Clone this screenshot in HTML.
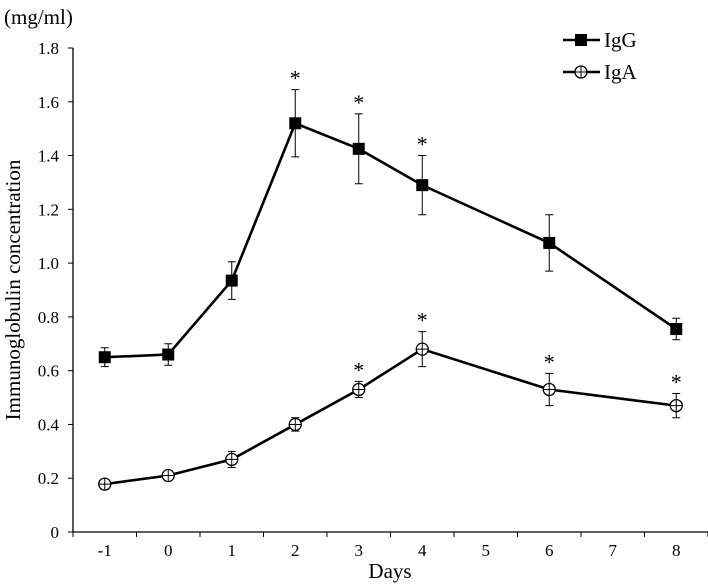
<!DOCTYPE html>
<html><head><meta charset="utf-8"><style>
body{margin:0;background:#fff}
svg{display:block;font-family:"Liberation Serif",serif}
</style></head><body>
<svg id="c" width="708" height="586"></svg>
<script>
const categories=["-1","0","1","2","3","4","5","6","7","8"];
const yTicks=[0,0.2,0.4,0.6,0.8,1.0,1.2,1.4,1.6,1.8];
const yTickLabels=["0","0.2","0.4","0.6","0.8","1.0","1.2","1.4","1.6","1.8"];
const igDays=["-1","0","1","2","3","4","6","8"];
const igG=[0.65,0.66,0.935,1.52,1.425,1.29,1.075,0.755];
const igGErr=[0.035,0.04,0.07,0.125,0.13,0.11,0.105,0.04];
const igGSig=[0,0,0,1,1,1,0,0];
const igA=[0.178,0.21,0.27,0.40,0.53,0.68,0.53,0.47];
const igAErr=[0.01,0.01,0.03,0.025,0.03,0.065,0.06,0.045];
const igASig=[0,0,0,0,1,1,1,1];

const svg=document.getElementById('c');
const NS="http://www.w3.org/2000/svg";
const X0=73,X1=708,Y0=532,Y1=48,YMAX=1.8;
const bw=(X1-X0)/categories.length;
const xs=c=>X0+bw*(categories.indexOf(c)+0.5);
const ys=v=>Y0-(v/YMAX)*(Y0-Y1);
function mk(t,a,p){const e=document.createElementNS(NS,t);for(const k in a)e.setAttribute(k,a[k]);(p||svg).appendChild(e);return e;}
function txt(s,a){const e=mk('text',a);e.textContent=s;return e;}

let e;
e=mk('line',{x1:X0,y1:Y1,x2:X0,y2:Y0,stroke:'#000','stroke-width':1.3});

e=mk('line',{x1:X0,y1:Y0,x2:X1,y2:Y0,stroke:'#000','stroke-width':1.3});

yTicks.forEach((v,i)=>{
  mk('line',{x1:X0-5,y1:ys(v),x2:X0,y2:ys(v),stroke:'#000'});
  e=txt(yTickLabels[i],{x:X0-14,y:ys(v)+6,'text-anchor':'end','font-size':17});
  
});
for(let i=0;i<=categories.length;i++){mk('line',{x1:X0+bw*i,y1:Y0,x2:X0+bw*i,y2:Y0+5,stroke:'#000'});}
categories.forEach(c=>{
  e=txt(c,{x:xs(c),y:Y0+24,'text-anchor':'middle','font-size':17});
  
});
e=txt('Days',{x:390,y:578,'text-anchor':'middle','font-size':21});

e=txt('Immunoglobulin concentration',{x:0,y:0,'text-anchor':'middle','font-size':21,transform:'translate(20,290) rotate(-90)'});

e=txt('(mg/ml)',{x:4,y:24,'font-size':21});


function series(vals,errs,sig,name,marker){
  const g=mk('g',{});
  
  mk('polyline',{points:vals.map((v,i)=>xs(igDays[i])+','+ys(v)).join(' '),fill:'none',stroke:'#000','stroke-width':2.6},g);
  vals.forEach((v,i)=>{
    const x=xs(igDays[i]);
    const eb=mk('path',{d:`M${x},${ys(v+errs[i])}V${ys(v-errs[i])}M${x-4},${ys(v+errs[i])}h8M${x-4},${ys(v-errs[i])}h8`,stroke:'#000','stroke-width':1},g);
    
    let m;
    if(marker==='sq'){m=mk('rect',{x:x-6,y:ys(v)-6,width:12,height:12,fill:'#000'},g);}
    else{m=mk('circle',{cx:x,cy:ys(v),r:6,fill:'#fff',stroke:'#000','stroke-width':1.3},g);
      mk('path',{d:`M${x-6},${ys(v)}h12M${x},${ys(v)-6}v12`,stroke:'#000','stroke-width':1},g);}
    
    if(sig[i]){const s=txt('*',{x:x,y:ys(v+errs[i])-4,'text-anchor':'middle','font-size':22});
      }
  });
}
series(igG,igGErr,igGSig,'igg','sq');
series(igA,igAErr,igASig,'iga','circ');

let lg=mk('g',{});
mk('line',{x1:563,y1:40,x2:600,y2:40,stroke:'#000','stroke-width':2.6},lg);
mk('rect',{x:575,y:34,width:12,height:12,fill:'#000'},lg);
e=txt('IgG',{x:604,y:47,'font-size':21});lg.appendChild(e);
lg=mk('g',{});
mk('line',{x1:563,y1:72,x2:600,y2:72,stroke:'#000','stroke-width':2.6},lg);
mk('circle',{cx:581,cy:72,r:6,fill:'#fff',stroke:'#000','stroke-width':1.3},lg);
mk('path',{d:'M575,72h12M581,66v12',stroke:'#000','stroke-width':1},lg);
e=txt('IgA',{x:604,y:79,'font-size':21});lg.appendChild(e);
</script>
</body></html>
